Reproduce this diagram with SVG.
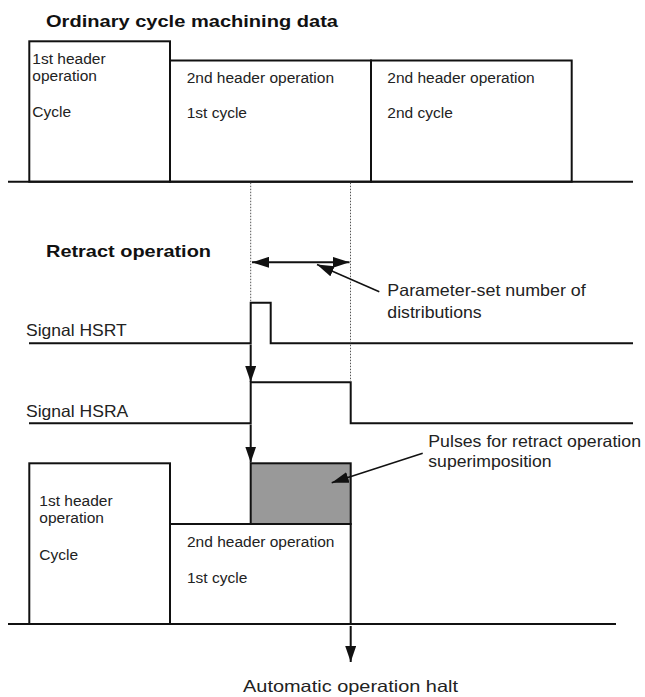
<svg xmlns="http://www.w3.org/2000/svg" width="645" height="697" viewBox="0 0 645 697">
<style>
.t{font-family:"Liberation Sans",Arial,sans-serif;font-size:15.5px;fill:#222}
.w{font-family:"Liberation Sans",Arial,sans-serif;font-size:16.5px;fill:#222}
.b{font-family:"Liberation Sans",Arial,sans-serif;font-size:16.5px;font-weight:bold;fill:#111}
.ln{fill:none;stroke:#111;stroke-width:2}
.bx{fill:#fff;stroke:#111;stroke-width:2}
.dot{fill:none;stroke:#555;stroke-width:1;stroke-dasharray:1.5,1.5}
.thin{fill:none;stroke:#111;stroke-width:1.5}
</style>
<defs>
<marker id="ah" markerUnits="userSpaceOnUse" markerWidth="17" markerHeight="11" refX="17" refY="5.5" orient="auto-start-reverse"><path d="M0,0 L17,5.5 L0,11 z" fill="#111"/></marker>
<marker id="ahd" markerUnits="userSpaceOnUse" markerWidth="16" markerHeight="11" refX="16" refY="5.5" orient="auto"><path d="M0,0 L16,5.5 L0,11 z" fill="#111"/></marker>
</defs>
<rect width="645" height="697" fill="#fff"/>
<text class="b" x="46" y="26.7" textLength="292" lengthAdjust="spacingAndGlyphs">Ordinary cycle machining data</text>
<g id="top-box1"><rect class="bx" x="29.3" y="41.3" width="140.7" height="140.4"/>
<text class="t" x="32.3" y="64">1st header</text><text class="t" x="32.3" y="81">operation</text><text class="t" x="32.3" y="117">Cycle</text></g>
<g id="top-box2"><rect class="bx" x="170" y="60.5" width="201" height="121.2"/>
<text class="t" x="186.7" y="83.3">2nd header operation</text><text class="t" x="186.7" y="118">1st cycle</text></g>
<g id="top-box3"><rect class="bx" x="371" y="60.5" width="200.7" height="121.2"/>
<text class="t" x="387.3" y="83.3">2nd header operation</text><text class="t" x="387.3" y="118">2nd cycle</text></g>
<line class="ln" x1="8" y1="181.7" x2="633" y2="181.7"/>
<text class="b" x="46" y="257.3" textLength="165" lengthAdjust="spacingAndGlyphs">Retract operation</text>
<g id="hsrt"><text class="w" x="26" y="336" textLength="100.7" lengthAdjust="spacingAndGlyphs">Signal HSRT</text>
<polyline class="ln" points="29,343.3 250.7,343.3 250.7,302.7 270.7,302.7 270.7,343.3 633,343.3"/></g>
<g id="hsra"><text class="w" x="26" y="417.3" textLength="102.3" lengthAdjust="spacingAndGlyphs">Signal HSRA</text>
<polyline class="ln" points="29,423.3 250.7,423.3 250.7,382.3 350.7,382.3 350.7,423.3 633,423.3"/></g>
<g id="annot1"><text class="w" x="387.3" y="295.5" textLength="198.4" lengthAdjust="spacingAndGlyphs">Parameter-set number of</text>
<text class="w" x="387.3" y="317.5" textLength="94.4" lengthAdjust="spacingAndGlyphs">distributions</text></g>
<g id="annot2"><text class="w" x="428.3" y="447" textLength="212.7" lengthAdjust="spacingAndGlyphs">Pulses for retract operation</text>
<text class="w" x="428.3" y="466.7" textLength="123.3" lengthAdjust="spacingAndGlyphs">superimposition</text></g>
<g id="bot-box1"><rect class="bx" x="29.3" y="463.3" width="140.7" height="160.7"/>
<text class="t" x="39.3" y="506">1st header</text><text class="t" x="39.3" y="522.7">operation</text><text class="t" x="39.3" y="560">Cycle</text></g>
<g id="bot-box2"><rect class="bx" x="170" y="524" width="180.7" height="100"/>
<text class="t" x="187" y="546.7">2nd header operation</text><text class="t" x="187" y="582.7">1st cycle</text></g>
<g id="pulses"><rect x="250.7" y="463.3" width="100" height="60.7" fill="#999" stroke="#111" stroke-width="2"/></g>
<line class="ln" x1="8" y1="624" x2="616" y2="624"/>
<g id="connectors">
<line class="dot" x1="250.7" y1="182.7" x2="250.7" y2="302"/>
<line class="dot" x1="350.5" y1="182.7" x2="350.5" y2="382"/>
<line class="ln" x1="252" y1="262.3" x2="349.5" y2="262.3" marker-start="url(#ah)" marker-end="url(#ah)"/>
<line class="thin" x1="379.3" y1="291.7" x2="317" y2="264.5" marker-end="url(#ah)"/>
<line class="thin" x1="422.7" y1="453.3" x2="331.7" y2="482.7" marker-end="url(#ah)"/>
<line class="ln" x1="250.7" y1="344.5" x2="250.7" y2="382" marker-end="url(#ahd)"/>
<line class="ln" x1="250.7" y1="424.5" x2="250.7" y2="462.5" marker-end="url(#ahd)"/>
<line class="ln" x1="350.7" y1="626" x2="350.7" y2="662" marker-end="url(#ahd)"/>
</g>
<text class="w" x="243" y="692" textLength="215" lengthAdjust="spacingAndGlyphs">Automatic operation halt</text>
</svg>
